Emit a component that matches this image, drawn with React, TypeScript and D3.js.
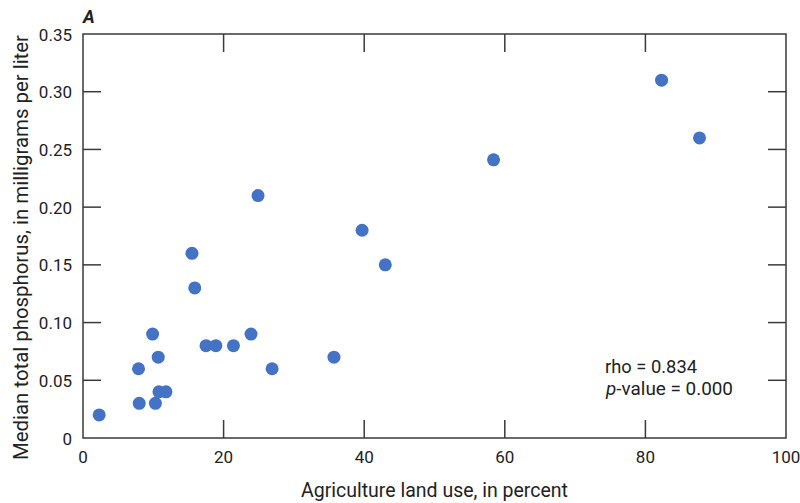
import React from "react";
import * as d3 from "d3";

const agriculture = [2.3, 7.9, 8.0, 9.9, 10.3, 10.7, 10.8, 11.8, 15.5, 15.9, 17.5, 18.9, 21.4, 23.9, 24.9, 26.9, 35.7, 39.7, 43.0, 58.4, 82.3, 87.7];
const phosphorus = [0.02, 0.06, 0.03, 0.09, 0.03, 0.07, 0.04, 0.04, 0.16, 0.13, 0.08, 0.08, 0.08, 0.09, 0.21, 0.06, 0.07, 0.18, 0.15, 0.241, 0.31, 0.26];
const xTicks = [0, 20, 40, 60, 80, 100];
const yTicks = [0, 0.05, 0.1, 0.15, 0.2, 0.25, 0.3, 0.35];
const yTickLabels = ["0", "0.05", "0.10", "0.15", "0.20", "0.25", "0.30", "0.35"];

const W = 800, H = 503;
const L = 83, R = 786, T = 34, B = 438;
const font = "Roboto, 'Liberation Sans', sans-serif";

export default function App() {
  const x = d3.scaleLinear().domain([0, 100]).range([L, R]);
  const y = d3.scaleLinear().domain([0, 0.35]).range([B, T]);
  const tick = 18;
  const axisColor = "#3a3a3a";
  return (
    <svg width={W} height={H} style={{ position: "absolute", left: 0, top: 0, background: "#fff" }} fontFamily={font}>
      <rect x={L} y={T} width={R - L} height={B - T} fill="none" stroke={axisColor} strokeWidth={1.5} />
      {xTicks.slice(1, -1).map((t) => (
        <g key={"x" + t}>
          <line x1={x(t)} x2={x(t)} y1={B} y2={B - tick} stroke={axisColor} strokeWidth={1.5} />
          <line x1={x(t)} x2={x(t)} y1={T} y2={T + tick} stroke={axisColor} strokeWidth={1.5} />
        </g>
      ))}
      {xTicks.map((t) => (
        <text key={"xl" + t} x={x(t)} y={B + 25} textAnchor="middle" fontSize={17} fill="#222">{t}</text>
      ))}
      {yTicks.slice(1, -1).map((t) => (
        <g key={"y" + t}>
          <line x1={L} x2={L + tick} y1={y(t)} y2={y(t)} stroke={axisColor} strokeWidth={1.5} />
          <line x1={R} x2={R - tick} y1={y(t)} y2={y(t)} stroke={axisColor} strokeWidth={1.5} />
        </g>
      ))}
      {yTicks.map((t, i) => (
        <text key={"yl" + t} x={L - 11} y={y(t) + 6.5} textAnchor="end" fontSize={17} fill="#222">{yTickLabels[i]}</text>
      ))}
      {agriculture.map((a, i) => (
        <circle key={i} cx={x(a)} cy={y(phosphorus[i])} r={6.5} fill="#4472C4" />
      ))}
      <text x={83} y={23} fontSize={18} fontWeight="bold" fontStyle="italic" fill="#222">A</text>
      <text x={301} y={497} fontSize={21} fill="#222" textLength={267} lengthAdjust="spacingAndGlyphs">Agriculture land use, in percent</text>
      <text transform={`translate(28,460) rotate(-90)`} fontSize={21} fill="#222" textLength={425} lengthAdjust="spacingAndGlyphs">Median total phosphorus, in milligrams per liter</text>
      <text x={605} y={373} fontSize={19} fill="#222" textLength={92} lengthAdjust="spacingAndGlyphs">rho = 0.834</text>
      <text x={606} y={395} fontSize={19} fill="#222" textLength={127} lengthAdjust="spacingAndGlyphs"><tspan fontStyle="italic">p</tspan>-value = 0.000</text>
    </svg>
  );
}
